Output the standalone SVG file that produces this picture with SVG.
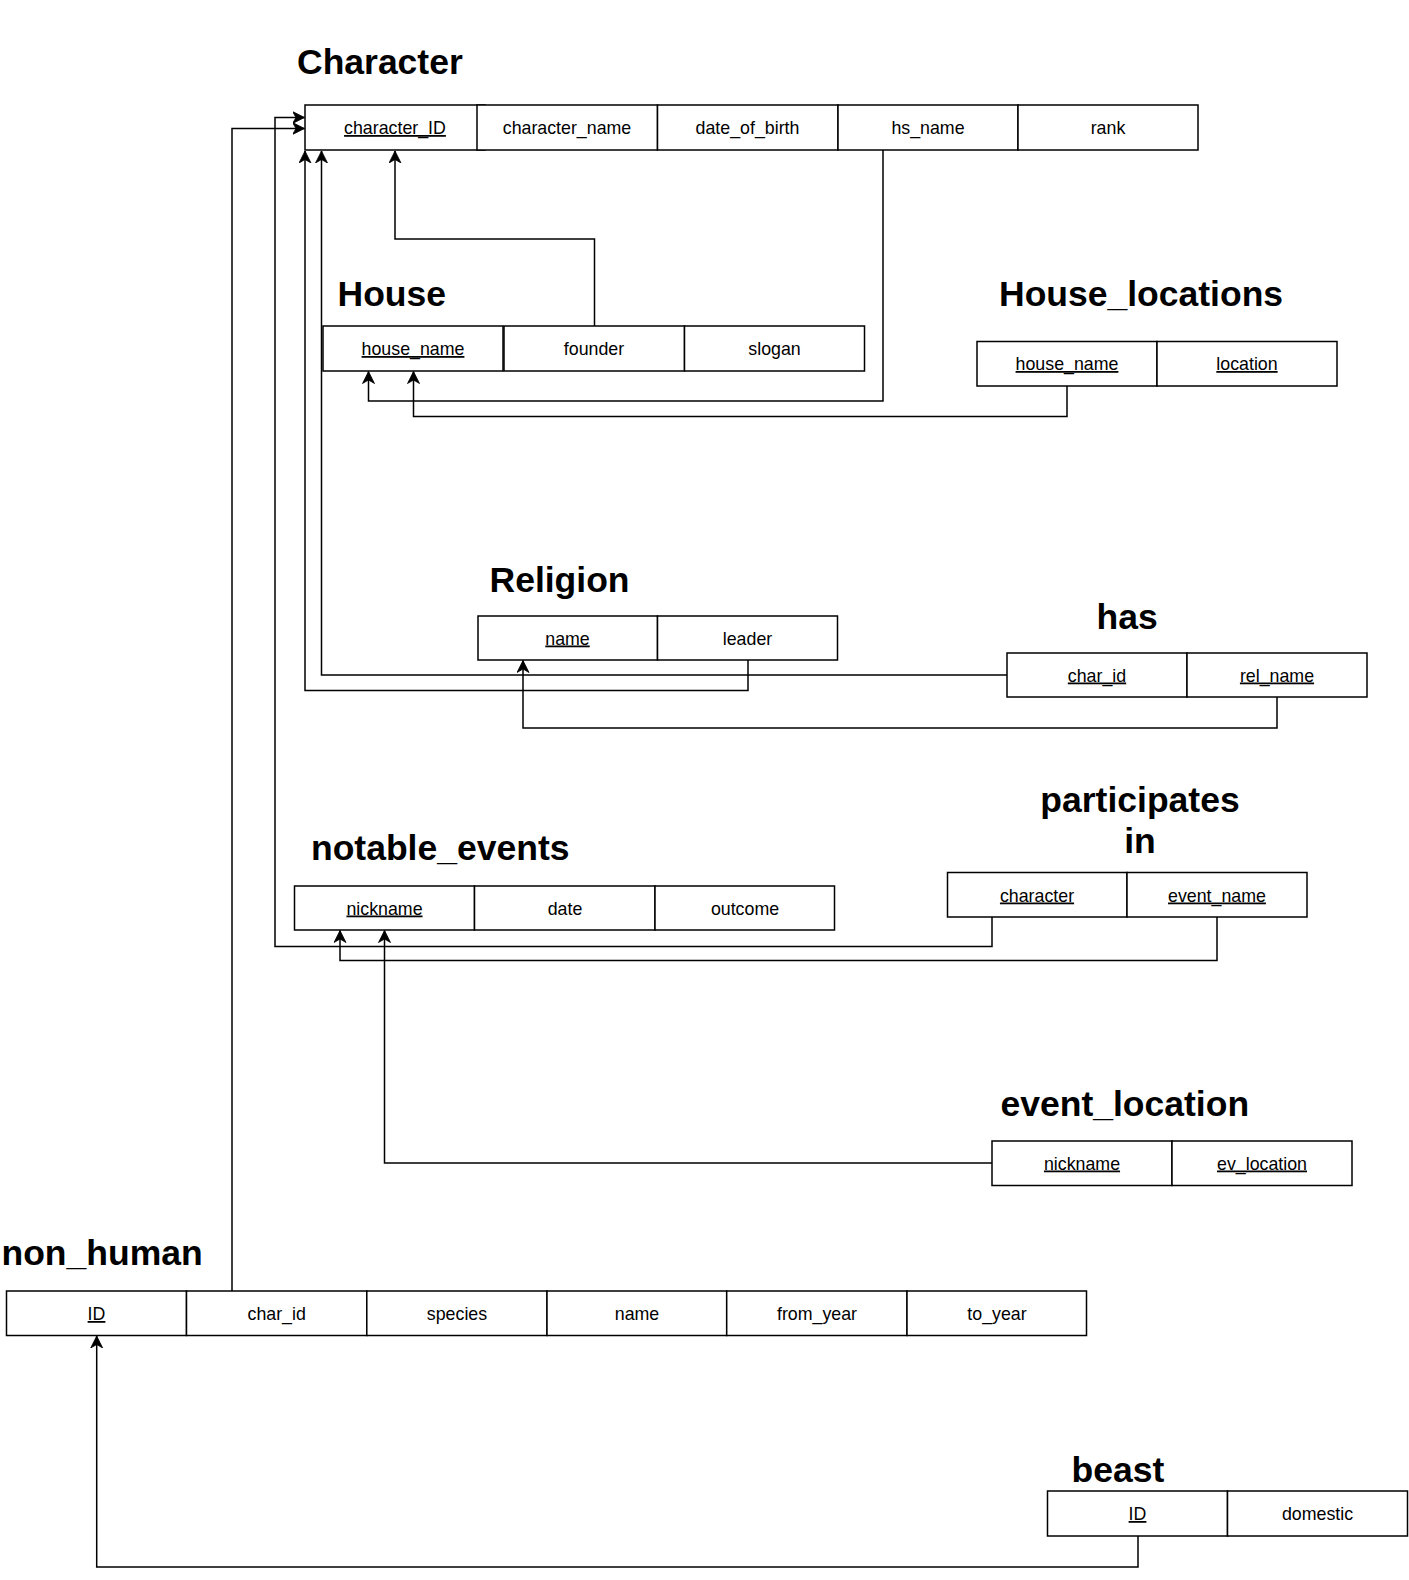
<svg xmlns="http://www.w3.org/2000/svg" width="1409" height="1580" viewBox="0 0 1409 1580">
<style>
.cell{fill:#fff;stroke:#000;stroke-width:1.5}
.t{font-family:"Liberation Sans",Arial,sans-serif;font-size:17.8px;fill:#000;text-anchor:middle}
.k{text-decoration:underline}
.title{font-family:"Liberation Sans",Arial,sans-serif;font-size:35.5px;font-weight:bold;fill:#000}
.conn{fill:none;stroke:#000;stroke-width:1.5;marker-end:url(#arr)}
</style>
<defs>
<marker id="arr" markerUnits="userSpaceOnUse" markerWidth="14" markerHeight="14" refX="12" refY="6.5" orient="auto" viewBox="0 0 14 14">
<path d="M0,0.5 L12,6.5 L0,12.5 L3.5,6.5 Z" fill="#000" stroke="#000" stroke-width="0.8" stroke-linejoin="miter"/>
</marker>
</defs>
<rect width="1409" height="1580" fill="#fff"/>

<g id="connectors">
<path class="conn" d="M594.5,326 V239 H395 V151"/>
<path class="conn" d="M883,150 V401 H368.5 V371.5"/>
<path class="conn" d="M1067,386 V416.5 H413.5 V371.5"/>
<path class="conn" d="M1007,675 H321.5 V151"/>
<path class="conn" d="M748,660 V690.5 H305 V151"/>
<path class="conn" d="M1277,697 V728 H523 V660.5"/>
<path class="conn" d="M992,917 V946.5 H275 V117.5 H304.5"/>
<path class="conn" d="M1217,917 V960.5 H340 V930.5"/>
<path class="conn" d="M992,1163 H384.5 V930.5"/>
<path class="conn" d="M232,1291 V128.5 H304.5"/>
<path class="conn" d="M1138,1536 V1567 H96.7 V1336"/>
</g>

<g id="Character">
<text class="title" x="297" y="74">Character</text>
<rect class="cell" x="305" y="105" width="180" height="45"/>
<rect class="cell" x="477" y="105" width="180.5" height="45"/>
<rect class="cell" x="657.5" y="105" width="180.5" height="45"/>
<rect class="cell" x="838" y="105" width="180" height="45"/>
<rect class="cell" x="1018" y="105" width="180" height="45"/>
<text class="t k" x="395" y="134">character_ID</text>
<text class="t" x="567" y="134">character_name</text>
<text class="t" x="747.5" y="134">date_of_birth</text>
<text class="t" x="928" y="134">hs_name</text>
<text class="t" x="1108" y="134">rank</text>
</g>

<g id="House">
<text class="title" x="337.5" y="306">House</text>
<rect class="cell" x="323" y="326" width="180" height="45"/>
<rect class="cell" x="504" y="326" width="180.5" height="45"/>
<rect class="cell" x="684.5" y="326" width="180" height="45"/>
<text class="t k" x="413" y="355">house_name</text>
<text class="t" x="594" y="355">founder</text>
<text class="t" x="774.5" y="355">slogan</text>
</g>

<g id="House_locations">
<text class="title" x="999" y="306">House_locations</text>
<rect class="cell" x="977" y="341.5" width="180" height="44.5"/>
<rect class="cell" x="1157" y="341.5" width="180" height="44.5"/>
<text class="t k" x="1067" y="370">house_name</text>
<text class="t k" x="1247" y="370">location</text>
</g>

<g id="Religion">
<text class="title" x="489.5" y="591.5">Religion</text>
<rect class="cell" x="478" y="616" width="179.5" height="44"/>
<rect class="cell" x="657.5" y="616" width="180" height="44"/>
<text class="t k" x="567.5" y="644.5">name</text>
<text class="t" x="747.5" y="644.5">leader</text>
</g>

<g id="has">
<text class="title" x="1096.5" y="629">has</text>
<rect class="cell" x="1007" y="653" width="180" height="44"/>
<rect class="cell" x="1187" y="653" width="180" height="44"/>
<text class="t k" x="1097" y="681.5">char_id</text>
<text class="t k" x="1277" y="681.5">rel_name</text>
</g>

<g id="notable_events">
<text class="title" x="311" y="859.5">notable_events</text>
<rect class="cell" x="294.5" y="886" width="180" height="44"/>
<rect class="cell" x="474.5" y="886" width="180.5" height="44"/>
<rect class="cell" x="655" y="886" width="179.5" height="44"/>
<text class="t k" x="384.5" y="914.5">nickname</text>
<text class="t" x="565" y="914.5">date</text>
<text class="t" x="745" y="914.5">outcome</text>
</g>

<g id="participates_in">
<text class="title" x="1140" y="811.5" text-anchor="middle">participates</text>
<text class="title" x="1140" y="853" text-anchor="middle">in</text>
<rect class="cell" x="947.5" y="872.5" width="179.5" height="44.5"/>
<rect class="cell" x="1127" y="872.5" width="180" height="44.5"/>
<text class="t k" x="1037" y="901.5">character</text>
<text class="t k" x="1217" y="901.5">event_name</text>
</g>

<g id="event_location">
<text class="title" x="1000.5" y="1115.5">event_location</text>
<rect class="cell" x="992" y="1141" width="180" height="44.5"/>
<rect class="cell" x="1172" y="1141" width="180" height="44.5"/>
<text class="t k" x="1082" y="1169.5">nickname</text>
<text class="t k" x="1262" y="1169.5">ev_location</text>
</g>

<g id="non_human">
<text class="title" x="1.5" y="1265">non_human</text>
<rect class="cell" x="6.5" y="1291" width="180" height="44.5"/>
<rect class="cell" x="186.5" y="1291" width="180.3" height="44.5"/>
<rect class="cell" x="366.8" y="1291" width="180.2" height="44.5"/>
<rect class="cell" x="547" y="1291" width="179.7" height="44.5"/>
<rect class="cell" x="726.7" y="1291" width="180.3" height="44.5"/>
<rect class="cell" x="907" y="1291" width="179.5" height="44.5"/>
<text class="t k" x="96.5" y="1320">ID</text>
<text class="t" x="276.7" y="1320">char_id</text>
<text class="t" x="457" y="1320">species</text>
<text class="t" x="637" y="1320">name</text>
<text class="t" x="817" y="1320">from_year</text>
<text class="t" x="997" y="1320">to_year</text>
</g>

<g id="beast">
<text class="title" x="1071.5" y="1481.5">beast</text>
<rect class="cell" x="1047.5" y="1491" width="180" height="45"/>
<rect class="cell" x="1227.5" y="1491" width="180" height="45"/>
<text class="t k" x="1137.5" y="1520">ID</text>
<text class="t" x="1317.5" y="1520">domestic</text>
</g>
</svg>
